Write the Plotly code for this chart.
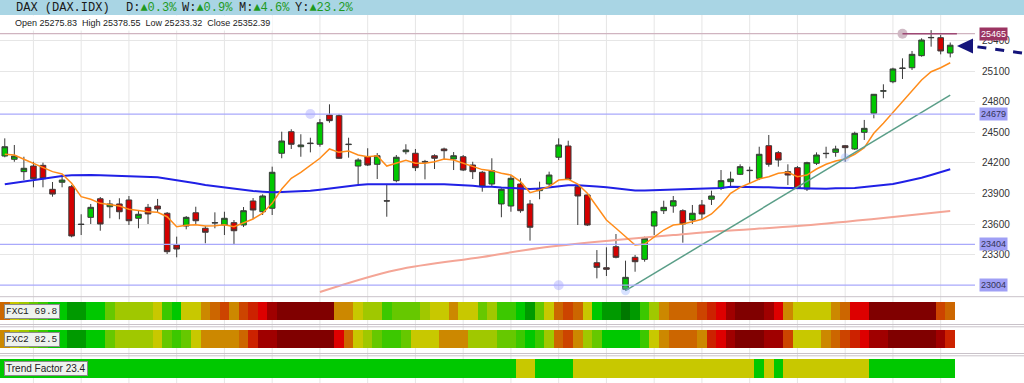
import plotly.graph_objects as go

W, H = 1024, 383

# ---------------- data ----------------
idx = list(range(100))
opens = [24268, 24236, 24115, 24170, 24177, 23942, 24011, 23968, 23602, 23668,
         23850, 23772, 23799, 23838, 23659, 23766, 23779, 23708, 23397, 23583,
         23713, 23561, 23612, 23593, 23616, 23593, 23828, 23723, 23757, 24295,
         24506, 24359, 24395, 24383, 24670, 24663, 24380, 24170, 24261, 24187,
         23830, 24027, 24310, 24295, 24215, 24271, 24337, 24239, 24261, 24180,
         24109, 23994, 23799, 23779, 23994, 23799, 23929, 23994, 24256, 24366,
         23968, 23887, 23224, 23175, 23381, 22964, 23277, 23257, 23583, 23733,
         23779, 23733, 23642, 23789, 23845, 23952, 24017, 24089, 24125, 24050,
         24369, 24301, 24115, 24154, 23945, 24197, 24295, 24304, 24369, 24337,
         24500, 24686, 24903, 24995, 25125, 25132, 25250, 25425, 25426, 25275.83]
highs = [24441, 24376, 24261, 24212, 24203, 24014, 24073, 23984, 23698, 23799,
         23867, 23838, 23855, 23877, 23740, 23799, 23848, 23720, 23479, 23681,
         23772, 23583, 23717, 23723, 23642, 23769, 23857, 23893, 24164, 24506,
         24530, 24481, 24447, 24630, 24774, 24680, 24447, 24246, 24344, 24297,
         23991, 24278, 24383, 24337, 24230, 24285, 24350, 24307, 24278, 24212,
         24121, 24246, 23952, 24082, 24050, 23838, 24017, 24115, 24441, 24418,
         23984, 23896, 23348, 23375, 23505, 23244, 23300, 23479, 23733, 23831,
         23877, 23747, 23789, 23838, 23929, 24131, 24115, 24187, 24164, 24359,
         24474, 24317, 24187, 24170, 24212, 24304, 24359, 24369, 24376, 24506,
         24621, 24875, 24970, 25132, 25224, 25296, 25420, 25500, 25452, 25378.55]
lows = [24256, 24212, 24033, 23962, 23962, 23870, 23962, 23473, 23495, 23603,
        23537, 23659, 23649, 23593, 23561, 23603, 23713, 23309, 23277, 23551,
        23603, 23414, 23561, 23495, 23397, 23573, 23652, 23691, 23691, 24246,
        24337, 24261, 24304, 24359, 24594, 24240, 24252, 23991, 24170, 24043,
        23674, 24011, 24285, 24121, 24040, 24141, 24229, 24131, 24121, 24043,
        23919, 23975, 23669, 23723, 23713, 23440, 23845, 23968, 24229, 24033,
        23593, 23583, 23071, 23094, 23267, 22950, 23136, 23234, 23495, 23701,
        23713, 23420, 23603, 23642, 23789, 23935, 23968, 24082, 24001, 24033,
        24164, 24164, 23984, 23945, 23926, 24180, 24246, 24261, 24212, 24327,
        24425, 24637, 24833, 24980, 25022, 25110, 25240, 25338, 25263, 25233.32]
closes = [24359, 24268, 24148, 24046, 24046, 23896, 24033, 23486, 23598, 23766,
          23603, 23799, 23723, 23635, 23698, 23701, 23750, 23332, 23358, 23668,
          23635, 23522, 23616, 23659, 23537, 23733, 23740, 23877, 24109, 24415,
          24383, 24376, 24390, 24594, 24614, 24246, 24383, 24229, 24180, 24271,
          23828, 24256, 24327, 24154, 24210, 24246, 24320, 24271, 24131, 24115,
          23968, 24125, 23943, 24050, 23733, 23571, 23952, 24082, 24376, 24040,
          23877, 23593, 23179, 23160, 23277, 23081, 23234, 23463, 23723, 23766,
          23831, 23603, 23708, 23701, 23877, 24027, 24043, 24164, 24128, 24285,
          24187, 24229, 24082, 23952, 24203, 24278, 24292, 24337, 24350, 24490,
          24539, 24872, 24906, 25120, 25128, 25263, 25403, 25428, 25296, 25352.39]

fast_ma = [24285, 24278, 24236, 24197, 24154, 24115, 24092, 24001, 23870, 23845,
           23805, 23789, 23779, 23747, 23733, 23723, 23717, 23674, 23576, 23590,
           23596, 23583, 23586, 23596, 23576, 23613, 23652, 23708, 23805, 23945,
           24050, 24109, 24180, 24246, 24337, 24304, 24317, 24278, 24261, 24271,
           24170, 24197, 24226, 24197, 24197, 24212, 24239, 24229, 24197, 24170,
           24135, 24125, 24099, 24082, 24017, 23910, 23935, 23968, 24033, 24040,
           23994, 23903, 23766, 23642, 23561, 23479, 23397, 23407, 23479, 23544,
           23593, 23603, 23625, 23649, 23701, 23790, 23903, 23962, 24001, 24043,
           24066, 24099, 24109, 24066, 24082, 24141, 24187, 24220, 24239, 24285,
           24350, 24490, 24588, 24696, 24800, 24904, 25012, 25093, 25132, 25181]
mid_ma = [23991, 24004, 24017, 24033, 24050, 24063, 24073, 24079, 24082, 24082,
          24079, 24076, 24073, 24073, 24069, 24066, 24060, 24046, 24033, 24017,
          24001, 23984, 23971, 23958, 23948, 23935, 23926, 23919, 23913, 23916,
          23919, 23922, 23929, 23939, 23952, 23965, 23978, 23984, 23991, 23991,
          23991, 23994, 23997, 23994, 23991, 23991, 23991, 23987, 23984, 23978,
          23968, 23968, 23960, 23955, 23950, 23945, 23950, 23960, 23971, 23981,
          23981, 23978, 23971, 23962, 23952, 23940, 23930, 23930, 23933, 23936,
          23940, 23943, 23945, 23948, 23952, 23955, 23968, 23968, 23968, 23965,
          23962, 23958, 23955, 23952, 23948, 23948, 23948, 23952, 23952, 23955,
          23965, 23975, 23987, 23994, 24014, 24033, 24056, 24082, 24109, 24138]
slow_idx = [33, 41, 50, 56, 64, 70, 75, 83, 91, 99]
slow_ma = [22937, 23153, 23280, 23368, 23446, 23495, 23534, 23583, 23652, 23730]

trend_idx = [65, 99]
trend_val = [22950, 24865]

levels = [25465, 24679, 23404, 23004]
level_anchor = [94, 32, None, 58]
trend_marks_idx = [65, 88]
trend_marks_val = [22950, 24252]

yticks = [23300, 23600, 23900, 24200, 24500, 24800, 25100, 25400]
grid_idx = list(range(3, 100, 5))

# heat strip levels (0 = deep green ... 13 = maroon)
fxc1 = [8, 6, 5, 4, 3, 2, 2, 1, 1, 2, 2, 4, 5, 5, 5, 5, 6, 3, 2, 6,
        6, 7, 8, 9, 7, 9, 10, 11, 12, 13, 13, 13, 13, 13, 13, 7, 7, 6, 5, 5,
        3, 4, 4, 4, 5, 6, 6, 7, 6, 6, 4, 5, 3, 3, 2, 1, 4, 6, 8, 9,
        8, 6, 2, 1, 1, 0, 1, 3, 5, 7, 8, 8, 8, 9, 10, 11, 12, 13, 13, 13,
        12, 11, 7, 6, 6, 6, 6, 7, 8, 11, 11, 13, 13, 13, 13, 13, 13, 13, 9, 8]
fxc2 = [7, 6, 5, 4, 3, 2, 2, 1, 1, 2, 2, 4, 5, 5, 5, 5, 6, 4, 3, 4,
        6, 7, 7, 7, 7, 8, 10, 12, 12, 13, 13, 13, 13, 13, 13, 11, 8, 6, 5, 4,
        3, 3, 4, 6, 6, 6, 7, 7, 7, 5, 5, 5, 4, 4, 3, 2, 3, 5, 8, 9,
        7, 5, 4, 2, 2, 2, 2, 3, 6, 7, 8, 8, 8, 7, 10, 11, 12, 13, 13, 13,
        12, 12, 9, 6, 6, 6, 7, 8, 9, 10, 11, 12, 12, 13, 13, 13, 13, 13, 12, 10]
trend_factor = [2] * 54 + [6, 6, 2, 2, 2, 2] + [6] * 19 + [2, 6, 2] + [6] * 9 + [2] * 9
palette = ['#007800', '#009a00', '#00c800', '#3cc800', '#66c800', '#a0c800', '#c8c800',
           '#cc8800', '#cc6600', '#cc4400', '#cc2200', '#dd0000', '#a00000', '#800000']

# ---------------- geometry helpers ----------------
def py(pix):
    return 1 - pix / H

def px(pix):
    return pix / W

x_right = 975
x_range = [-0.5, -0.5 + x_right / 9.55]
main_dom = [py(296.7), py(15)]
y_range = [25100 - (296.7 - 71) * 9.785, 25100 + (71 - 15) * 9.785]

fig = go.Figure()

# candles
fig.add_trace(go.Candlestick(
    x=idx, open=opens, high=highs, low=lows, close=closes,
    increasing=dict(fillcolor='#00c800', line=dict(color='#3a3a3a', width=1)),
    decreasing=dict(fillcolor='#d40000', line=dict(color='#3a3a3a', width=1)),
    whiskerwidth=0, showlegend=False, hoverinfo='skip', xaxis='x', yaxis='y'))

# moving averages
fig.add_trace(go.Scatter(x=slow_idx, y=slow_ma, mode='lines', line=dict(color='#f4a596', width=2, shape='spline'),
                         showlegend=False, hoverinfo='skip'))
fig.add_trace(go.Scatter(x=idx, y=mid_ma, mode='lines', line=dict(color='#2020e6', width=2),
                         showlegend=False, hoverinfo='skip'))
fig.add_trace(go.Scatter(x=idx, y=fast_ma, mode='lines', line=dict(color='#ff8c1a', width=1.5),
                         showlegend=False, hoverinfo='skip'))
fig.add_trace(go.Scatter(x=trend_idx, y=trend_val, mode='lines', line=dict(color='#5a9e88', width=1.5),
                         showlegend=False, hoverinfo='skip'))

# level anchor markers
anc_x = [a for a in level_anchor if a is not None]
anc_y = [l for l, a in zip(levels, level_anchor) if a is not None]
anc_c = ['rgba(170,130,150,0.55)' if l == levels[0] else 'rgba(140,140,255,0.35)' for l in anc_y]
fig.add_trace(go.Scatter(x=anc_x, y=anc_y, mode='markers',
                         marker=dict(size=10, color=anc_c, line=dict(width=0)),
                         showlegend=False, hoverinfo='skip'))
fig.add_trace(go.Scatter(x=trend_marks_idx, y=trend_marks_val, mode='markers',
                         marker=dict(size=9, color='rgba(140,170,255,0.35)', line=dict(width=0)),
                         showlegend=False, hoverinfo='skip'))

# heat strips
for vals, ax in [(fxc1, 'y2'), (fxc2, 'y3'), (trend_factor, 'y4')]:
    fig.add_trace(go.Bar(x=idx, y=[1] * len(idx), width=1,
                         marker=dict(color=[palette[v] for v in vals], line=dict(width=0)),
                         xaxis='x', yaxis=ax, showlegend=False, hoverinfo='skip'))

shapes = []
# header band
shapes.append(dict(type='rect', xref='paper', yref='paper', x0=0, x1=1, y0=py(15), y1=1,
                   fillcolor='#a9d5e4', line=dict(width=0), layer='below'))
# vertical grid lines
for g in grid_idx:
    shapes.append(dict(type='line', xref='x', yref='paper', x0=g, x1=g, y0=0, y1=py(15),
                       line=dict(color='#e6e6e6', width=1), layer='below'))
# level lines
lvl_cols = ['#d0b4c0', '#a9a9fb', '#a9a9fb', '#a9a9fb']
for l, c in zip(levels, lvl_cols):
    shapes.append(dict(type='line', xref='paper', yref='y', x0=0, x1=px(x_right), y0=l, y1=l,
                       line=dict(color=c, width=1.2), layer='above'))
shapes.append(dict(type='line', xref='x', yref='y', x0=level_anchor[0], x1=99.7, y0=levels[0],
                   y1=levels[0], line=dict(color='#9e4874', width=1.5)))
# separators
for yy in [296.7, 324.5, 326.8, 353.5, 355.8]:
    shapes.append(dict(type='line', xref='paper', yref='paper', x0=0, x1=1, y0=py(yy), y1=py(yy),
                       line=dict(color='#c9c2c9', width=1)))
# arrow
shapes.append(dict(type='line', xref='paper', yref='paper', x0=px(1022), y0=py(53), x1=px(971), y1=py(46),
                   line=dict(color='#14147a', width=3, dash='dash')))
shapes.append(dict(type='path', xref='paper', yref='paper',
                   path=f'M {px(957)} {py(46)} L {px(973)} {py(38.5)} L {px(973)} {py(53.5)} Z',
                   fillcolor='#14147a', line=dict(width=0)))

ann = []
mono = 'Liberation Mono, Courier New, monospace'
sans = 'Liberation Sans, Arial, sans-serif'
ann.append(dict(text='DAX (DAX.IDX)', x=px(14), y=py(7.5), xref='paper', yref='paper',
                xanchor='left', yanchor='middle', showarrow=False, font=dict(family=mono, size=12, color='#1a1a1a')))
for lab, val, xx in [('D:', '▲0.3%', 124), ('W:', '▲0.9%', 180), ('M:', '▲4.6%', 237), ('Y:', '▲23.2%', 293)]:
    ann.append(dict(text=f"{lab}<span style='color:#1f9a1f'>{val}</span>", x=px(xx), y=py(7.5),
                    xref='paper', yref='paper', xanchor='left', yanchor='middle', showarrow=False,
                    font=dict(family=mono, size=12, color='#1a1a1a')))
ann.append(dict(text='Open 25275.83  High 25378.55  Low 25233.32  Close 25352.39', x=px(12), y=py(22.5),
                xref='paper', yref='paper', xanchor='left', yanchor='middle', showarrow=False,
                bgcolor='white', borderpad=2,
                font=dict(family=sans, size=9, color='#222222')))
# level labels
lbl_bg = ['#9b3462', '#9f9ff5', '#9f9ff5', '#9f9ff5']
lbl_fg = ['#ffffff', '#333355', '#333355', '#333355']
for l, bg, fg in zip(levels, lbl_bg, lbl_fg):
    ann.append(dict(text=str(l), x=px(979), y=l, xref='paper', yref='y', xanchor='left', yanchor='middle',
                    showarrow=False, bgcolor=bg, borderpad=1, font=dict(family=sans, size=9, color=fg)))
# strip labels
for t, yy, fam, fs in [('FXC1 69.8', 311, mono, 9.5), ('FXC2 82.5', 339, mono, 9.5),
                       ('Trend Factor 23.4', 368.5, sans, 10)]:
    ann.append(dict(text=t, x=px(4), y=py(yy), xref='paper', yref='paper', xanchor='left', yanchor='middle',
                    showarrow=False, bgcolor='#eef2ee', bordercolor='#8a8a8a', borderwidth=1, borderpad=1,
                    font=dict(family=fam, size=fs, color='#222222')))

fig.update_layout(
    width=W, height=H, margin=dict(l=0, r=0, t=0, b=0),
    paper_bgcolor='white', plot_bgcolor='rgba(0,0,0,0)',
    boxgap=0.16, bargap=0, showlegend=False,
    xaxis=dict(domain=[0, px(x_right)], range=x_range, showgrid=False, showticklabels=False,
               zeroline=False, rangeslider=dict(visible=False), fixedrange=True, anchor='y'),
    yaxis=dict(domain=main_dom, range=y_range, side='right', tickvals=yticks,
               ticktext=[str(v) for v in yticks], showgrid=True, gridcolor='#e6e6e6', gridwidth=1,
               zeroline=False, ticks='', ticklabelstandoff=6,
               tickfont=dict(family=sans, size=10, color='#333333')),
    yaxis2=dict(domain=[py(320), py(302)], range=[0, 1], visible=False),
    yaxis3=dict(domain=[py(348), py(330)], range=[0, 1], visible=False),
    yaxis4=dict(domain=[py(378), py(359)], range=[0, 1], visible=False),
    shapes=shapes, annotations=ann,
)

fig.write_html('out.html')
